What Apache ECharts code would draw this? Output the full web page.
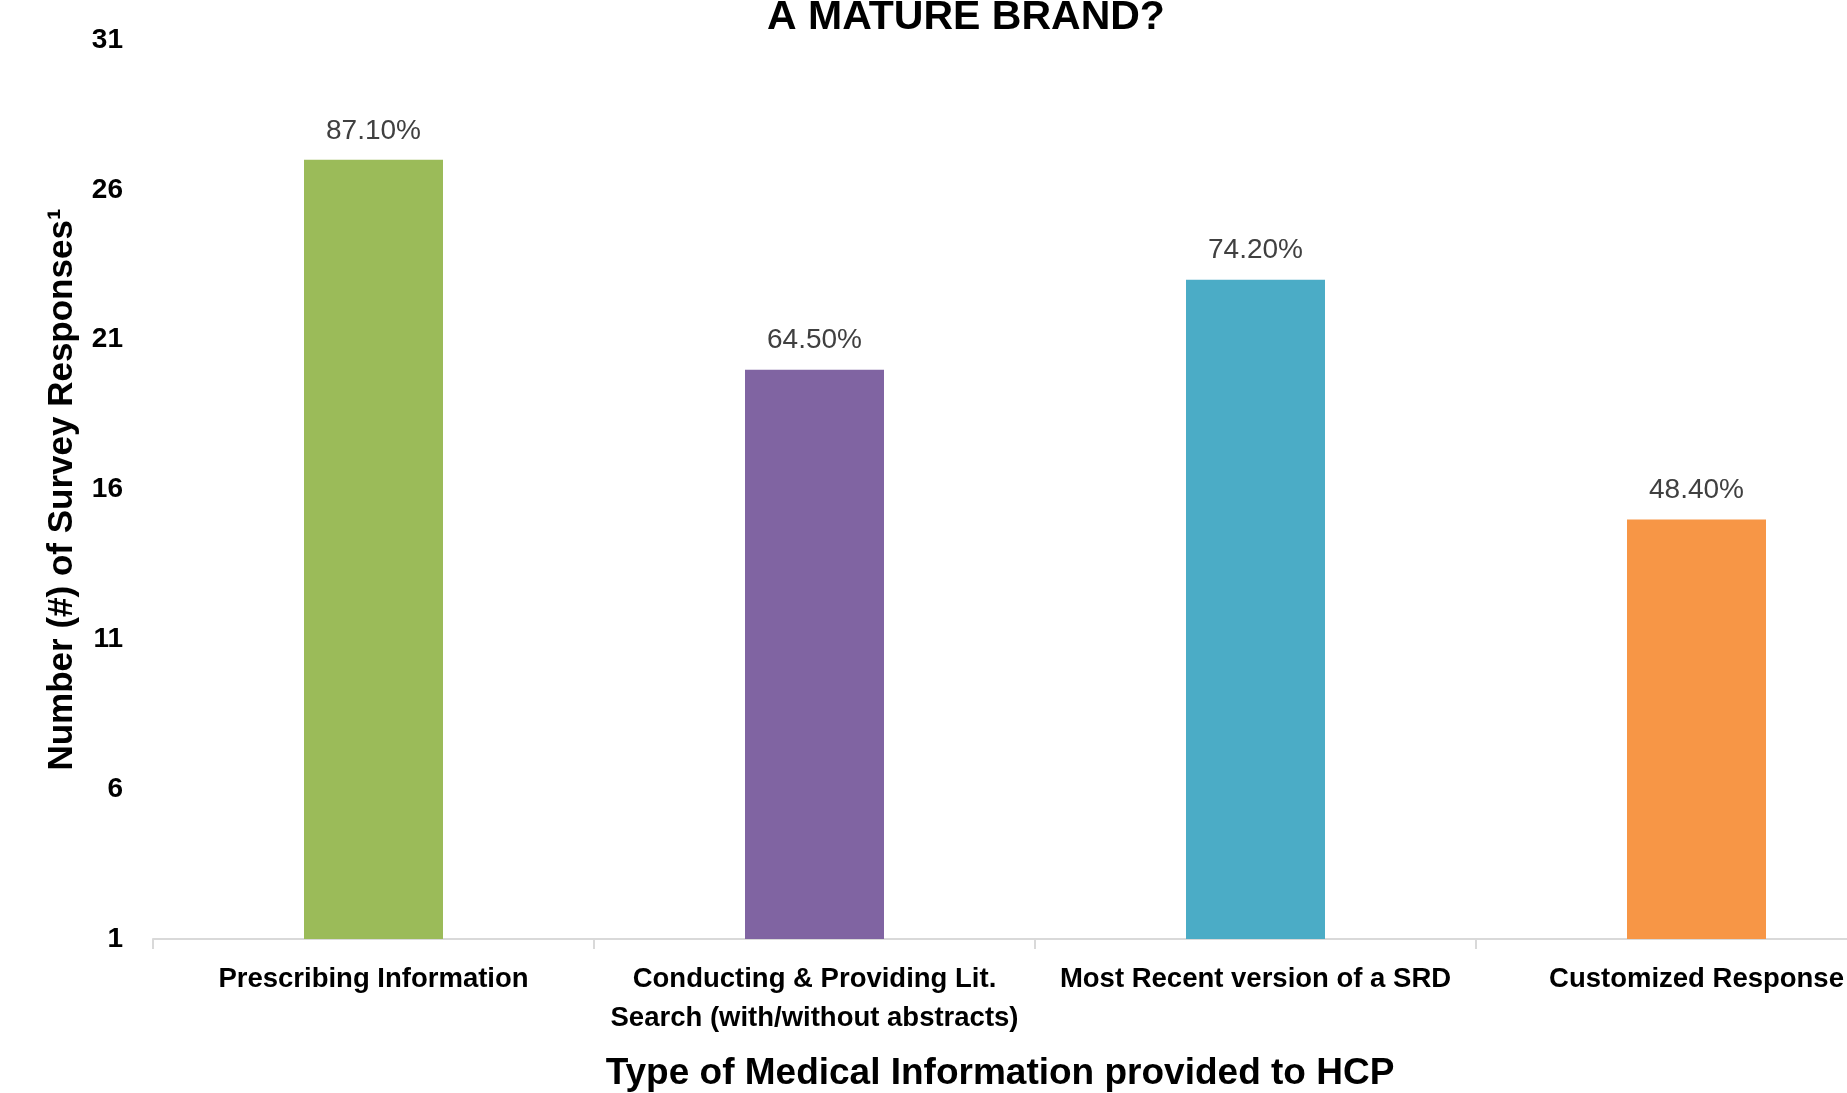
<!DOCTYPE html>
<html>
<head>
<meta charset="utf-8">
<title>Medical Information provided to HCP</title>
<script src="https://cdn.jsdelivr.net/npm/echarts@6/dist/echarts.min.js"></script>
<style>
  html, body { margin: 0; padding: 0; background: #ffffff; }
  #chart { width: 1847px; height: 1093px; }
</style>
</head>
<body>
<div id="chart"></div>
<script>
// Types of medical information provided to the HCP
var categories = [
  'Prescribing Information',
  'Conducting & Providing Lit.\nSearch (with/without abstracts)',
  'Most Recent version of a SRD',
  'Customized Response'
];
// Number of survey responses per type
var responses = [27, 20, 23, 15];
// Share of respondents, shown above each bar
var shareLabels = ['87.10%', '64.50%', '74.20%', '48.40%'];
// Bar colours, one per category
var barColors = ['#9BBB59', '#8064A2', '#4BACC6', '#F79646'];
// Value axis range and step
var axisMin = 1;
var axisMax = 31;
var axisStep = 5;

var FONT = "'Liberation Sans', Arial, sans-serif";

var chart = echarts.init(document.getElementById('chart'), null, { renderer: 'canvas' });

var option = {
  backgroundColor: '#ffffff',
  animation: false,
  grid: {
    left: 153,
    top: 40,
    width: 1764,
    height: 899,
    containLabel: false,
    outerBoundsMode: 'none'
  },
  xAxis: {
    type: 'category',
    data: categories,
    axisLine: { show: true, lineStyle: { color: '#d9d9d9', width: 2 } },
    axisTick: { show: true, length: 10, lineStyle: { color: '#d9d9d9', width: 2 } },
    axisLabel: {
      interval: 0,
      margin: 21,
      color: '#000000',
      fontFamily: FONT,
      fontWeight: 'bold',
      fontSize: 27.5,
      lineHeight: 39
    },
    splitLine: { show: false }
  },
  yAxis: {
    type: 'value',
    min: axisMin,
    max: axisMax,
    interval: axisStep,
    name: 'Number (#) of Survey Responses\u00B9',
    nameLocation: 'middle',
    nameGap: 73,
    nameTextStyle: {
      color: '#000000',
      fontFamily: FONT,
      fontWeight: 'bold',
      fontSize: 35
    },
    axisLine: { show: false },
    axisTick: { show: false },
    splitLine: { show: false },
    axisLabel: {
      margin: 30,
      color: '#000000',
      fontFamily: FONT,
      fontWeight: 'bold',
      fontSize: 28
    }
  },
  series: [{
    type: 'bar',
    barWidth: 139,
    clip: true,
    data: responses.map(function (v, i) {
      return { value: v, itemStyle: { color: barColors[i] } };
    }),
    label: {
      show: true,
      position: 'top',
      distance: 15,
      color: '#404040',
      fontFamily: FONT,
      fontSize: 28,
      formatter: function (p) { return shareLabels[p.dataIndex]; }
    }
  }],
  graphic: [
    {
      type: 'text',
      style: {
        text: 'A MATURE BRAND?',
        x: 966,
        y: 18,
        align: 'center',
        verticalAlign: 'middle',
        fill: '#000000',
        font: "bold 41px 'Liberation Sans', Arial, sans-serif"
      }
    },
    {
      type: 'text',
      style: {
        text: 'Type of Medical Information provided to HCP',
        x: 1000,
        y: 1074,
        align: 'center',
        verticalAlign: 'middle',
        fill: '#000000',
        font: "bold 37px 'Liberation Sans', Arial, sans-serif"
      }
    }
  ]
};

chart.setOption(option);
</script>
</body>
</html>
